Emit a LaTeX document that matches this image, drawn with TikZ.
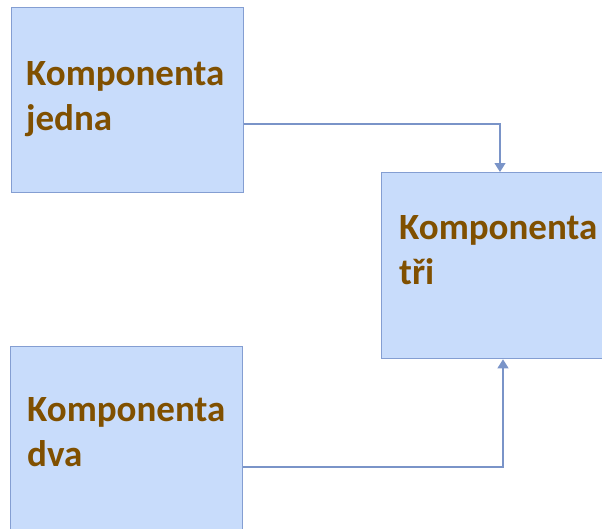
\documentclass[tikz,border=0pt]{standalone}
\usepackage{fontspec}
\setmainfont{Carlito}
\usetikzlibrary{arrows.meta}
\definecolor{boxfill}{RGB}{200,220,251}
\definecolor{boxedge}{RGB}{132,158,210}
\definecolor{linkcol}{RGB}{122,148,200}
\definecolor{labelcol}{RGB}{128,80,0}
\tikzset{
  compbox/.style={draw=boxedge, fill=boxfill, line width=1.3pt, rectangle,
    anchor=north west, inner sep=0pt},
  complabel/.style={anchor=base west, align=left, inner sep=0pt, text=labelcol,
    font=\fontsize{37}{45}\selectfont\bfseries},
  link/.style={draw=linkcol, line width=1.2pt,
    -{Triangle[length=9pt,width=11pt]}},
}
\begin{document}
\begin{tikzpicture}[x=1pt,y=-1pt]
  \useasboundingbox (0,0) rectangle (602,528);
  % component boxes
  \node[compbox, minimum width=232pt, minimum height=185pt] (k1) at (11,7) {};
  \node[compbox, minimum width=240pt, minimum height=186pt] (k2) at (381,172) {};
  \node[compbox, minimum width=232pt, minimum height=200pt] (k3) at (10,346) {};
  % labels (anchored at the baseline of their last line)
  \node[complabel] (t1) at (26,130) {Komponenta\\jedna};
  \node[complabel] (t2) at (399,284) {Komponenta\\tři};
  \node[complabel] (t3) at (27,466) {Komponenta\\dva};
  % connectors
  \coordinate (j1) at (500,124);
  \coordinate (j2) at (503,467);
  \draw[link] (k1.east |- j1) -| (k2.north -| j1);
  \draw[link] (k3.east |- j2) -| (k2.south -| j2);
\end{tikzpicture}
\end{document}
